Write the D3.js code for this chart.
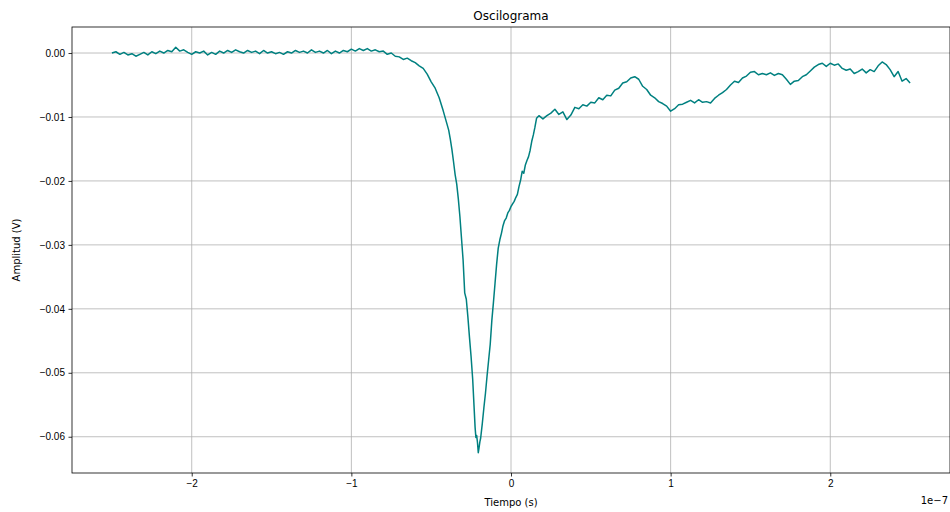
<!DOCTYPE html>
<html>
<head>
<meta charset="utf-8">
<script src="https://cdn.jsdelivr.net/npm/d3@7"></script>
<style>
    body { margin: 0; background: #fff; }
    svg { font-family: "DejaVu Sans", sans-serif; }
    .grid line { stroke: #b0b0b0; stroke-width: 0.8; }
    .axis text { font-size: 10px; fill: #000; }
    .axis line, .axis path { stroke: #000; stroke-width: 0.8; }
</style>
</head>
<body>
<div id="chart"></div>
<script>
// Tiempo en nanosegundos (se convierte a segundos para la escala)
const tiempoNs = [
    -250, -247.5, -245, -242.5, -240, -237.5, -235, -232.5, -230, -227.5,
    -225, -222.5, -220, -217.5, -215, -212.5, -210, -207.5, -205, -202.5,
    -200, -197.5, -195, -192.5, -190, -187.5, -185, -182.5, -180, -177.5,
    -175, -172.5, -170, -167.5, -165, -162.5, -160, -157.5, -155, -152.5,
    -150, -147.5, -145, -142.5, -140, -137.5, -135, -132.5, -130, -127.5,
    -125, -122.5, -120, -117.5, -115, -112.5, -110, -107.5, -105, -102.5,
    -100, -97.5, -95, -92.5, -90, -87.5, -85, -82.5, -80, -77.5,
    -75, -72.5, -70, -67.5, -65, -62.5, -60, -57.5, -55, -52.5,
    -50, -47.5, -45, -42.5, -40, -39, -38, -37, -36, -35,
    -34, -33, -32, -31, -30, -29, -28, -27, -26, -25,
    -24, -23, -22.5, -22, -21.5, -21, -20.5, -20, -19.5, -19,
    -18, -17, -16, -15, -14, -13, -12, -11, -10, -9,
    -8, -7, -6, -5, -4, -3, -2, -1, 0, 1,
    2, 3, 4, 5, 6, 7, 8, 9, 10, 11,
    12, 13, 14, 15, 16, 17.5, 20, 22.5, 25, 27.5,
    30, 32.5, 35, 37.5, 40, 42.5, 45, 47.5, 50, 52.5,
    55, 57.5, 60, 62.5, 65, 67.5, 70, 72.5, 75, 77.5,
    80, 82.5, 85, 87.5, 90, 92.5, 95, 97.5, 100, 102.5,
    105, 107.5, 110, 112.5, 115, 117.5, 120, 122.5, 125, 127.5,
    130, 132.5, 135, 137.5, 140, 142.5, 145, 147.5, 150, 152.5,
    155, 157.5, 160, 162.5, 165, 167.5, 170, 172.5, 175, 177.5,
    180, 182.5, 185, 187.5, 190, 192.5, 195, 197.5, 200, 202.5,
    205, 207.5, 210, 212.5, 215, 217.5, 220, 222.5, 225, 227.5,
    230, 232.5, 235, 237.5, 240, 242.5, 245, 247.5, 250
];

// Amplitud en voltios
const amplitud = [
    0.0000, 0.0002, -0.0002, 0.0001, -0.0003, -0.0001, -0.0005, -0.0002, 0.0001, -0.0003,
    0.0002, -0.0001, 0.0003, 0.0000, 0.0004, 0.0002, 0.0009, 0.0003, 0.0005, 0.0001,
    -0.0002, 0.0002, 0.0000, 0.0003, -0.0003, 0.0001, -0.0002, 0.0003, 0.0000, 0.0004,
    0.0001, 0.0005, 0.0002, 0.0000, 0.0004, 0.0001, 0.0003, -0.0001, 0.0004, 0.0000,
    0.0002, -0.0001, 0.0001, -0.0002, 0.0002, 0.0000, 0.0004, 0.0001, 0.0003, 0.0000,
    0.0005, 0.0001, 0.0003, 0.0000, 0.0004, -0.0001, 0.0003, 0.0000, 0.0004, 0.0002,
    0.0006, 0.0003, 0.0007, 0.0004, 0.0007, 0.0003, 0.0005, 0.0002, 0.0003, -0.0002,
    0.0000, -0.0005, -0.0006, -0.0010, -0.0008, -0.0012, -0.0015, -0.0020, -0.0024, -0.0033,
    -0.0045, -0.0055, -0.0070, -0.0090, -0.0112, -0.0121, -0.0135, -0.0151, -0.0170, -0.0190,
    -0.0205, -0.0228, -0.0256, -0.0290, -0.0324, -0.0375, -0.0385, -0.0413, -0.0445, -0.0475,
    -0.0510, -0.0560, -0.0585, -0.0601, -0.0598, -0.0609, -0.0625, -0.0617, -0.0608, -0.0602,
    -0.0580, -0.0555, -0.0532, -0.0505, -0.0480, -0.0455, -0.0418, -0.0390, -0.0360, -0.0330,
    -0.0305, -0.0292, -0.0282, -0.0270, -0.0262, -0.0258, -0.0250, -0.0246, -0.0240, -0.0236,
    -0.0232, -0.0226, -0.0221, -0.0209, -0.0199, -0.0185, -0.0188, -0.0175, -0.0168, -0.0162,
    -0.0152, -0.0138, -0.0128, -0.0116, -0.0102, -0.0098, -0.0103, -0.0098, -0.0094, -0.0088,
    -0.0096, -0.0092, -0.0104, -0.0097, -0.0085, -0.0087, -0.0081, -0.0083, -0.0077, -0.0078,
    -0.0070, -0.0073, -0.0066, -0.0067, -0.0058, -0.0055, -0.0047, -0.0045, -0.0039, -0.0037,
    -0.0041, -0.0052, -0.0057, -0.0066, -0.0070, -0.0076, -0.0079, -0.0083, -0.0091, -0.0087,
    -0.0081, -0.0080, -0.0077, -0.0074, -0.0078, -0.0073, -0.0077, -0.0076, -0.0078, -0.0071,
    -0.0066, -0.0062, -0.0057, -0.0050, -0.0044, -0.0046, -0.0039, -0.0036, -0.0030, -0.0029,
    -0.0034, -0.0032, -0.0034, -0.0031, -0.0035, -0.0032, -0.0034, -0.0041, -0.0049, -0.0044,
    -0.0043, -0.0037, -0.0034, -0.0028, -0.0022, -0.0018, -0.0016, -0.0021, -0.0016, -0.0019,
    -0.0017, -0.0024, -0.0027, -0.0025, -0.0032, -0.0029, -0.0025, -0.0031, -0.0026, -0.0029,
    -0.0020, -0.0014, -0.0018, -0.0026, -0.0037, -0.0029, -0.0044, -0.0040, -0.0047
];

const xTicks = [-2e-7, -1e-7, 0, 1e-7, 2e-7];
const yTicks = [0, -0.01, -0.02, -0.03, -0.04, -0.05, -0.06];

const datos = tiempoNs.map((t, i) => ({ t: t * 1e-9, v: amplitud[i] }));

const width = 950, height = 512;
const margin = { top: 27, right: 0, bottom: 39, left: 72 };

const svg = d3.select("#chart").append("svg")
    .attr("width", width)
    .attr("height", height);

// Escalas (margen del 5% como en matplotlib)
const tExt = d3.extent(datos, d => d.t);
const vExt = d3.extent(datos, d => d.v);
const tPad = (tExt[1] - tExt[0]) * 0.05;
const vPad = (vExt[1] - vExt[0]) * 0.05;

const x = d3.scaleLinear()
    .domain([tExt[0] - tPad, tExt[1] + tPad])
    .range([margin.left, width - margin.right]);

const y = d3.scaleLinear()
    .domain([vExt[0] - vPad, vExt[1] + vPad])
    .range([height - margin.bottom, margin.top]);

const menos = s => s.replace("-", "\u2212");

// Rejilla
const grid = svg.append("g").attr("class", "grid");
grid.selectAll(".gx").data(xTicks).enter().append("line")
    .attr("x1", d => x(d)).attr("x2", d => x(d))
    .attr("y1", margin.top).attr("y2", height - margin.bottom);
grid.selectAll(".gy").data(yTicks).enter().append("line")
    .attr("x1", margin.left).attr("x2", width - margin.right)
    .attr("y1", d => y(d)).attr("y2", d => y(d));

// Señal
const line = d3.line()
    .x(d => x(d.t))
    .y(d => y(d.v));

svg.append("path")
    .datum(datos)
    .attr("fill", "none")
    .attr("stroke", "#008080")
    .attr("stroke-width", 1.5)
    .attr("stroke-linejoin", "round")
    .attr("d", line);

// Ejes
const xAxis = svg.append("g")
    .attr("class", "axis")
    .attr("transform", `translate(0,${height - margin.bottom})`)
    .call(d3.axisBottom(x).tickValues(xTicks).tickSize(3.5).tickPadding(3.5)
        .tickFormat(d => menos(d3.format("d")(Math.round(d / 1e-7)))));
xAxis.select(".domain").remove();

const yAxis = svg.append("g")
    .attr("class", "axis")
    .attr("transform", `translate(${margin.left},0)`)
    .call(d3.axisLeft(y).tickValues(yTicks).tickSize(3.5).tickPadding(3.5)
        .tickFormat(d => menos(d3.format(".2f")(d))));
yAxis.select(".domain").remove();

// Marco
svg.append("rect")
    .attr("x", margin.left)
    .attr("y", margin.top)
    .attr("width", width - margin.right - margin.left)
    .attr("height", height - margin.bottom - margin.top)
    .attr("fill", "none")
    .attr("stroke", "#000")
    .attr("stroke-width", 0.8);

// Textos
svg.append("text")
    .attr("x", (margin.left + width - margin.right) / 2)
    .attr("y", 20)
    .attr("text-anchor", "middle")
    .style("font-size", "12px")
    .text("Oscilograma");

svg.append("text")
    .attr("x", x(0))
    .attr("y", 506)
    .attr("text-anchor", "middle")
    .style("font-size", "10px")
    .text("Tiempo (s)");

svg.append("text")
    .attr("x", 948)
    .attr("y", 504)
    .attr("text-anchor", "end")
    .style("font-size", "10px")
    .text("1e\u22127");

svg.append("text")
    .attr("transform", `translate(20,${(margin.top + height - margin.bottom) / 2}) rotate(-90)`)
    .attr("text-anchor", "middle")
    .style("font-size", "10px")
    .text("Amplitud (V)");
</script>
</body>
</html>
